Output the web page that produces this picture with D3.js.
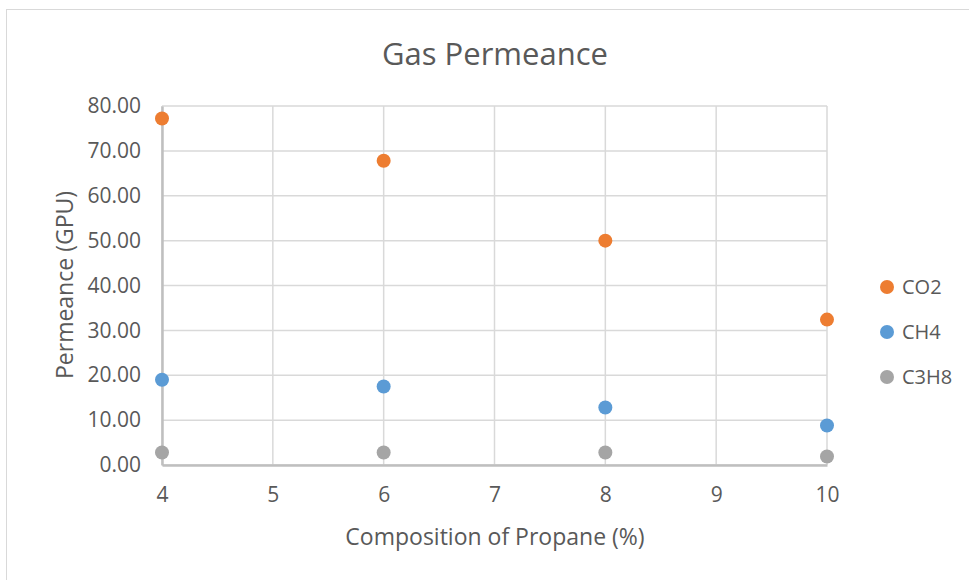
<!DOCTYPE html>
<html>
<head>
<meta charset="utf-8">
<script src="https://cdn.jsdelivr.net/npm/d3@7"></script>
<style>
  body { margin: 0; background: #fff; }
  text { font-family: "Open Sans", sans-serif; fill: #595959; }
</style>
</head>
<body>
<svg id="chart" width="969" height="580"></svg>
<script>
// data
var composition = [4, 6, 8, 10];
var co2 = [77.2, 67.8, 50.0, 32.4];
var ch4 = [19.0, 17.5, 12.8, 8.8];
var c3h8 = [2.8, 2.8, 2.8, 1.9];
var seriesNames = ['CO2', 'CH4', 'C3H8'];
var xTicks = [4, 5, 6, 7, 8, 9, 10];
var yTicks = [0, 10, 20, 30, 40, 50, 60, 70, 80];

var series = [co2, ch4, c3h8].map((vals, i) => ({
  name: seriesNames[i],
  points: vals.map((v, j) => ({ x: composition[j], y: v }))
}));

var svg = d3.select('#chart');

// outer chart frame
svg.append('rect')
  .attr('x', 6.5).attr('y', 9.5)
  .attr('width', 980).attr('height', 600)
  .attr('fill', '#fff')
  .attr('stroke', '#d9d9d9');

var x = d3.scaleLinear().domain([4, 10]).range([162, 827]);
var y = d3.scaleLinear().domain([0, 80]).range([465, 106]);

var color = d3.scaleOrdinal()
  .domain(seriesNames)
  .range(['#ED7D31', '#5B9BD5', '#A5A5A5']);

// gridlines
svg.append('g')
  .selectAll('line')
  .data(yTicks)
  .enter().append('line')
  .attr('x1', x(4)).attr('x2', x(10))
  .attr('y1', d => y(d)).attr('y2', d => y(d))
  .attr('stroke', '#d9d9d9').attr('stroke-width', 1.5);

svg.append('g')
  .selectAll('line')
  .data(xTicks)
  .enter().append('line')
  .attr('x1', d => x(d)).attr('x2', d => x(d))
  .attr('y1', y(0)).attr('y2', y(80))
  .attr('stroke', '#d9d9d9').attr('stroke-width', 1.5);

// axes
var xAxis = svg.append('g')
  .attr('transform', 'translate(0,' + y(0) + ')')
  .call(d3.axisBottom(x).tickValues(xTicks).tickSize(0).tickPadding(22).tickFormat(d3.format('d')));
var yAxis = svg.append('g')
  .attr('transform', 'translate(' + x(4) + ',0)')
  .call(d3.axisLeft(y).tickValues(yTicks).tickSize(0).tickPadding(21).tickFormat(d3.format('.2f')));

[xAxis, yAxis].forEach(a => {
  a.select('.domain').attr('stroke', '#bfbfbf').attr('stroke-width', 2.5);
  a.selectAll('text')
    .style('font-family', '"Open Sans", sans-serif')
    .style('font-size', '21px')
    .attr('fill', '#595959');
});

// points
series.forEach(s => {
  svg.append('g')
    .selectAll('circle')
    .data(s.points)
    .enter().append('circle')
    .attr('cx', d => x(d.x))
    .attr('cy', d => y(d.y))
    .attr('r', 7)
    .attr('fill', color(s.name));
});

// titles
svg.append('text')
  .attr('x', 495).attr('y', 65)
  .attr('text-anchor', 'middle')
  .style('font-size', '31px')
  .text('Gas Permeance');

svg.append('text')
  .attr('x', 495).attr('y', 545)
  .attr('text-anchor', 'middle')
  .style('font-size', '23px')
  .text('Composition of Propane (%)');

svg.append('text')
  .attr('transform', 'translate(73,285) rotate(-90)')
  .attr('text-anchor', 'middle')
  .style('font-size', '23px')
  .text('Permeance (GPU)');

// legend
var legend = svg.selectAll('.legend')
  .data(seriesNames)
  .enter().append('g')
  .attr('class', 'legend')
  .attr('transform', (d, i) => 'translate(887,' + (287 + i * 45) + ')');

legend.append('circle')
  .attr('r', 7)
  .attr('fill', d => color(d));

legend.append('text')
  .attr('x', 15)
  .attr('dy', '0.35em')
  .style('font-size', '20px')
  .text(d => d);
</script>
</body>
</html>
